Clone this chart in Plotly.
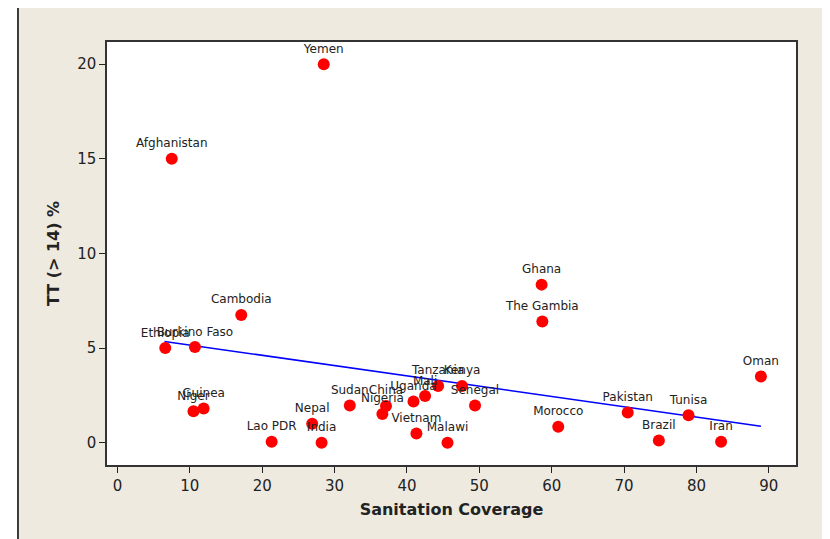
import plotly.graph_objects as go

countries = ["Yemen", "Afghanistan", "Cambodia", "Ethiopia", "Burkino Faso", "Ghana",
             "The Gambia", "Oman", "Niger", "Guinea", "Lao PDR", "India", "Nepal",
             "Sudan", "China", "Nigeria", "Uganda", "Mali", "Tanzania", "Kenya",
             "Senegal", "Vietnam", "Malawi", "Morocco", "Pakistan", "Tunisa",
             "Brazil", "Iran"]
sanitation = [28.5, 7.5, 17.1, 6.6, 10.7, 58.6, 58.7, 88.9, 10.5, 11.9, 21.3, 28.2, 26.9,
              32.1, 37.1, 36.6, 40.9, 42.5, 44.3, 47.6, 49.4, 41.3, 45.6, 60.9, 70.5, 78.9,
              74.8, 83.4]
tt = [20.0, 15.0, 6.75, 5.0, 5.05, 8.35, 6.4, 3.5, 1.66, 1.8, 0.05, 0.0, 1.0,
      1.96, 1.94, 1.52, 2.18, 2.46, 3.0, 3.0, 1.96, 0.49, 0.0, 0.84, 1.59, 1.45,
      0.12, 0.05]
fit_x = [6.5, 88.9]
fit_y = [5.35, 0.87]

x_ticks = [0, 10, 20, 30, 40, 50, 60, 70, 80, 90]
y_ticks = [0, 5, 10, 15, 20]

beige = "#EEEAE0"

fig = go.Figure()
fig.add_trace(go.Scatter(x=fit_x, y=fit_y, mode="lines",
                         line=dict(color="#0000FF", width=1.5), hoverinfo="skip"))
fig.add_trace(go.Scatter(x=sanitation, y=tt, mode="markers+text", text=countries,
                         textposition="top center",
                         textfont=dict(family="DejaVu Sans", size=12, color="#222222"),
                         marker=dict(color="#FF0000", size=12)))

fig.update_layout(
    width=822, height=531,
    margin=dict(l=99, r=34, t=34, b=74),
    paper_bgcolor="white", plot_bgcolor="white",
    showlegend=False,
    shapes=[
        dict(type="rect", xref="paper", yref="paper", x0=-0.1292, x1=1.1, y0=-0.3, y1=1.0898,
             fillcolor=beige, line=dict(color="black", width=1.5), layer="below"),
        dict(type="rect", xref="paper", yref="paper", x0=0, x1=1, y0=0, y1=1,
             fillcolor="white", line=dict(width=0), layer="below"),
    ],
    xaxis=dict(range=[-1.45, 93.75], tickvals=x_ticks, showgrid=False, zeroline=False,
               ticks="outside", ticklen=6, tickcolor="#222", showline=True, mirror=True,
               linecolor="#333", linewidth=1.5,
               tickfont=dict(family="DejaVu Sans", size=15, color="#222"),
               title=dict(text="<b>Sanitation Coverage</b>", standoff=10,
                          font=dict(family="DejaVu Sans", size=16, color="#222"))),
    yaxis=dict(range=[-1.18, 21.17], tickvals=y_ticks, showgrid=False, zeroline=False,
               ticks="outside", ticklen=6, tickcolor="#222", showline=True, mirror=True,
               linecolor="#333", linewidth=1.5,
               tickfont=dict(family="DejaVu Sans", size=15, color="#222"),
               title=dict(text="<b>TT (> 14) %</b>", standoff=14,
                          font=dict(family="DejaVu Sans", size=16, color="#222"))),
)

fig.write_html("out.html")
